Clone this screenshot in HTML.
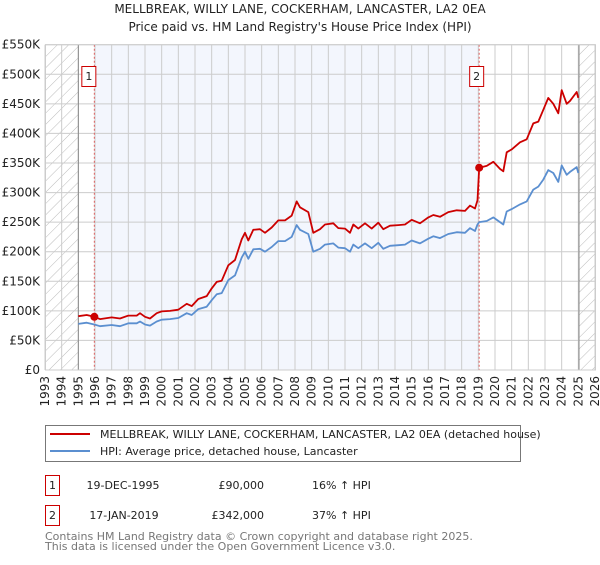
<!DOCTYPE html>
<html><head><meta charset="utf-8"><style>
body{margin:0;background:#fff;font-family:"Liberation Sans","DejaVu Sans",sans-serif}
svg text{font-family:"DejaVu Sans","Liberation Sans",sans-serif}
</style></head><body>
<svg id="c" width="600" height="560" viewBox="0 0 600 560" xmlns="http://www.w3.org/2000/svg">
<defs><pattern id="h" width="8" height="8" patternUnits="userSpaceOnUse" patternTransform="rotate(45)"><rect width="8" height="8" fill="#fff"/><line x1="0" y1="0" x2="0" y2="8" stroke="#bbb" stroke-width="1"/></pattern></defs>
<text x="300" y="13" text-anchor="middle" font-size="12" fill="#222">MELLBREAK, WILLY LANE, COCKERHAM, LANCASTER, LA2 0EA</text>
<text x="300" y="31" text-anchor="middle" font-size="12" fill="#222">Price paid vs. HM Land Registry's House Price Index (HPI)</text>
<g id="plot"></g>
<g>
<rect x="45.5" y="425.5" width="475" height="36" fill="#fff" stroke="#777"/>
<line x1="50" y1="434" x2="90" y2="434" stroke="#cc0000" stroke-width="2"/>
<text x="100" y="438" font-size="11" fill="#222">MELLBREAK, WILLY LANE, COCKERHAM, LANCASTER, LA2 0EA (detached house)</text>
<line x1="50" y1="451" x2="90" y2="451" stroke="#5b8fd0" stroke-width="2"/>
<text x="100" y="455" font-size="11" fill="#222">HPI: Average price, detached house, Lancaster</text>
</g>
<g font-size="11" fill="#222">
<rect x="45.5" y="475.5" width="14" height="20" fill="#fff" stroke="#cc0000"/><text x="52.5" y="489" text-anchor="middle">1</text>
<text x="123" y="489" text-anchor="middle">19-DEC-1995</text><text x="264" y="489" text-anchor="end">£90,000</text><text x="312" y="489">16% ↑ HPI</text>
<rect x="45.5" y="505.5" width="14" height="20" fill="#fff" stroke="#cc0000"/><text x="52.5" y="519" text-anchor="middle">2</text>
<text x="124" y="519" text-anchor="middle">17-JAN-2019</text><text x="264" y="519" text-anchor="end">£342,000</text><text x="312" y="519">37% ↑ HPI</text>
</g>
<text x="45" y="540" font-size="11" fill="#777">Contains HM Land Registry data © Crown copyright and database right 2025.</text>
<text x="45" y="550" font-size="11" fill="#777">This data is licensed under the Open Government Licence v3.0.</text>
</svg>
<script>
const times=[1995.0,1995.5,1995.96,1996.3,1997.0,1997.5,1998.0,1998.5,1998.7,1999.0,1999.3,1999.7,2000.0,2000.5,2001.0,2001.5,2001.8,2002.2,2002.7,2003.0,2003.3,2003.6,2004.0,2004.4,2004.8,2005.0,2005.2,2005.5,2005.9,2006.2,2006.6,2007.0,2007.4,2007.8,2008.1,2008.3,2008.8,2009.1,2009.5,2009.8,2010.3,2010.6,2011.0,2011.3,2011.5,2011.8,2012.2,2012.6,2013.0,2013.3,2013.7,2014.2,2014.6,2015.0,2015.5,2016.0,2016.3,2016.7,2017.2,2017.7,2018.2,2018.5,2018.8,2018.95,2019.05,2019.5,2019.9,2020.3,2020.5,2020.7,2021.0,2021.5,2021.9,2022.3,2022.6,2022.9,2023.2,2023.5,2023.8,2024.0,2024.3,2024.5,2024.9,2025.0];
const hpiValues=[78,80,77,74,76,74,79,79,82,77,75,82,85,86,88,96,93,103,107,118,128,130,152,160,190,200,188,204,205,200,208,218,218,225,245,237,230,200,205,212,214,207,206,200,212,206,214,206,215,205,210,211,212,219,214,222,226,223,230,233,232,240,235,246,250,252,258,250,246,268,272,280,285,305,310,322,338,333,318,346,330,335,343,333];
const priceValues=[91,93,90,86,89,87,92,92,96,90,87,96,99,100,102,112,108,120,125,138,149,151,177,186,221,232,219,237,238,232,241,253,253,261,285,275,267,232,238,246,248,240,239,232,246,239,248,239,249,238,244,245,246,254,248,258,262,259,267,270,269,278,273,287,342,345,352,340,336,368,373,385,390,417,420,440,460,450,434,473,450,455,470,460];
const yTicks=[0,50,100,150,200,250,300,350,400,450,500,550];
const yTickLabels=["£0","£50K","£100K","£150K","£200K","£250K","£300K","£350K","£400K","£450K","£500K","£550K"];
const years=[1993,1994,1995,1996,1997,1998,1999,2000,2001,2002,2003,2004,2005,2006,2007,2008,2009,2010,2011,2012,2013,2014,2015,2016,2017,2018,2019,2020,2021,2022,2023,2024,2025,2026];
const saleTimes=[1995.96,2019.05];
const salePrices=[90,342];
const saleLabels=["1","2"];

const X0=45,X1=595,Y0=370,Y1=44.7;
const x=t=>X0+(t-1993)/(2026-1993)*(X1-X0);
const y=v=>Y0-v/550*(Y0-Y1);
const NS="http://www.w3.org/2000/svg";
const g=document.getElementById('plot');
function mk(tag,attrs,parent){const e=document.createElementNS(NS,tag);for(const k in attrs)e.setAttribute(k,attrs[k]);(parent||g).appendChild(e);return e;}
let e;
e=mk('rect',{x:x(1995),y:Y1,width:x(2025.04)-x(1995),height:Y0-Y1,fill:'#fff'});


e=mk('rect',{x:x(saleTimes[0]),y:Y1,width:x(saleTimes[1])-x(saleTimes[0]),height:Y0-Y1,fill:'#f3f6fd'});


e=mk('rect',{x:X0,y:Y1,width:x(1995)-X0,height:Y0-Y1,fill:'url(#h)'});


e=mk('rect',{x:x(2025.04),y:Y1,width:X1-x(2025.04),height:Y0-Y1,fill:'url(#h)'});


years.forEach(yr=>{
  e=mk('line',{x1:x(yr),x2:x(yr),y1:Y1,y2:Y0,stroke:'#ccc','stroke-width':1});
  
  
  e=mk('text',{x:0,y:0,'font-size':12,fill:'#222','text-anchor':'end',transform:`translate(${x(yr)+4},376) rotate(-90)`});
  e.textContent=yr;
  
  
});
yTicks.forEach((v,i)=>{
  e=mk('line',{x1:X0,x2:X1,y1:y(v),y2:y(v),stroke:'#ccc','stroke-width':1});
  
  
  e=mk('text',{x:40,y:y(v)+4,'font-size':12,fill:'#222','text-anchor':'end'});
  e.textContent=yTickLabels[i];
  
  
});
e=mk('line',{x1:x(1995),x2:x(1995),y1:Y1,y2:Y0,stroke:'#888','stroke-width':1});


e=mk('line',{x1:x(2025.04),x2:x(2025.04),y1:Y1,y2:Y0,stroke:'#888','stroke-width':1});


saleTimes.forEach((t,i)=>{
  e=mk('line',{x1:x(t),x2:x(t),y1:Y1,y2:Y0,stroke:'#e06060','stroke-width':1,'stroke-dasharray':'2,2'});
  
  
});
const pts=vals=>vals.map((v,i)=>x(times[i]).toFixed(1)+','+y(v).toFixed(1)).join(' ');
e=mk('polyline',{points:pts(hpiValues),fill:'none',stroke:'#5b8fd0','stroke-width':1.8,'stroke-linejoin':'round'});


e=mk('polyline',{points:pts(priceValues),fill:'none',stroke:'#cc0000','stroke-width':1.8,'stroke-linejoin':'round'});


saleTimes.forEach((t,i)=>{
  e=mk('circle',{cx:x(t),cy:y(salePrices[i]),r:4,fill:'#cc0000'});
  
  
  const bx=x(t)-(i===0?6:3);
  e=mk('rect',{x:bx-7+0.5,y:66.5,width:14,height:20,fill:'#fff',stroke:'#cc0000'});
  
  
  e=mk('text',{x:bx+0.5,y:80,'font-size':11,fill:'#222','text-anchor':'middle'});
  e.textContent=saleLabels[i];
  
  
});
e=mk('rect',{x:X0+0.5,y:Y1,width:X1-X0,height:Y0-Y1,fill:'none',stroke:'#ccc'});


</script>
</body></html>
